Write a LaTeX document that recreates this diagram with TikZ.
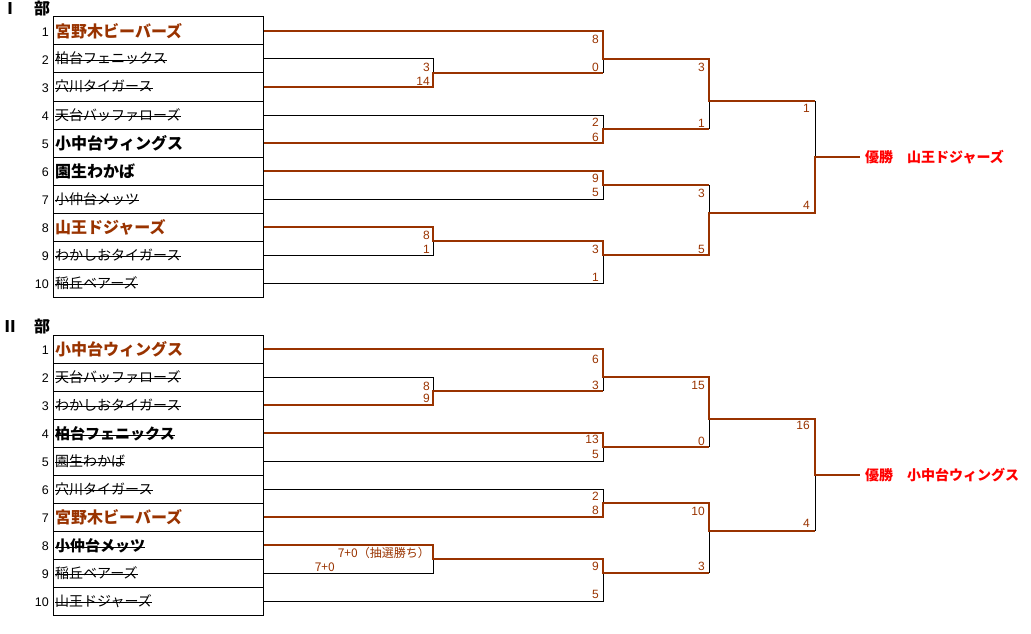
\documentclass[tikz,border=0pt]{standalone}
\usepackage{fontspec}
\setmainfont{Liberation Sans}
\newfontfamily\jp{Noto Sans CJK JP}
\definecolor{brn}{HTML}{993300}
\definecolor{wred}{HTML}{FF0000}
\newcommand\struck[2]{\draw[strikeline] ([yshift=#2]#1.base west) -- ([yshift=#2]#1.base east);}
\begin{document}
\begin{tikzpicture}[x=1pt,y=-1pt,
  rowbox/.style={draw=black, line width=1pt, minimum width=210pt, minimum height=28pt, inner sep=0pt},
  num/.style={anchor=base east, inner sep=0pt, font=\fontsize{12.5}{14}\selectfont},
  tn/.style={anchor=base west, inner sep=0pt, font=\jp\fontsize{14}{16}\selectfont},
  tnbig/.style={anchor=base west, inner sep=0pt, font=\jp\bfseries\fontsize{16}{18}\selectfont},
  tnmid/.style={anchor=base west, inner sep=0pt, font=\jp\bfseries\fontsize{15}{17}\selectfont},
  sc/.style={anchor=base east, inner sep=0pt, text=brn, font=\fontsize{12}{14}\selectfont},
  scj/.style={anchor=base east, inner sep=0pt, text=brn, font=\jp\fontsize{12}{14}\selectfont},
  lose/.style={draw=black, line width=1pt},
  win/.style={draw=brn, line width=2.6pt},
  strikeline/.style={draw=black, line width=0.9pt},
  ttl/.style={anchor=base west, inner sep=0pt, font=\jp\bfseries\fontsize{16}{18}\selectfont},
  champ/.style={anchor=base west, inner sep=0pt, text=wred, font=\jp\bfseries\fontsize{14}{16}\selectfont}]
\useasboundingbox (0,0) rectangle (1031,634);

% ---------------- titles
\node[ttl] (ttlI) at (2,14.5) {Ⅰ　部};
\node[ttl] (ttlII) at (2,332.5) {Ⅱ　部};

% ---------------- tables
\foreach \i in {1,...,10} {
  \node[rowbox] (rI\i) at (158,{3+28*\i}) {};
  \node[num] (nI\i) at (49,{3+28*\i+5.5}) {\i};
  \node[rowbox] (rJ\i) at (158,{321+28*\i}) {};
  \node[num] (nJ\i) at (49,{321+28*\i+5.5}) {\i};
}

% ---------------- team names, division I
\node[tnbig, text=brn] (t1) at (55,37.5) {宮野木ビーバーズ};
\node[tn] (t2) at (55,64) {柏台フェニックス}; \struck{t2}{3.3pt}
\node[tn] (t3) at (55,92) {穴川タイガース}; \struck{t3}{3.3pt}
\node[tn] (t4) at (55,120) {天台バッファローズ}; \struck{t4}{3.3pt}
\node[tnbig] (t5) at (55,149.5) {小中台ウィングス};
\node[tnbig] (t6) at (55,177.5) {園生わかば};
\node[tn] (t7) at (55,204) {小仲台メッツ}; \struck{t7}{3.3pt}
\node[tnbig, text=brn] (t8) at (55,233.5) {山王ドジャーズ};
\node[tn] (t9) at (55,260) {わかしおタイガース}; \struck{t9}{3.3pt}
\node[tn] (t10) at (55,288) {稲丘ベアーズ}; \struck{t10}{3.3pt}

% ---------------- team names, division II
\node[tnbig, text=brn] (u1) at (55,355.5) {小中台ウィングス};
\node[tn] (u2) at (55,382) {天台バッファローズ}; \struck{u2}{3.3pt}
\node[tn] (u3) at (55,410) {わかしおタイガース}; \struck{u3}{3.3pt}
\node[tnmid] (u4) at (55,439) {柏台フェニックス}; \struck{u4}{4pt}
\node[tn] (u5) at (55,466) {園生わかば}; \struck{u5}{3.3pt}
\node[tn] (u6) at (55,494) {穴川タイガース}; \struck{u6}{3.3pt}
\node[tnbig, text=brn] (u7) at (55,523.5) {宮野木ビーバーズ};
\node[tnmid] (u8) at (55,551) {小仲台メッツ}; \struck{u8}{4pt}
\node[tn] (u9) at (55,578) {稲丘ベアーズ}; \struck{u9}{3.3pt}
\node[tn] (u10) at (55,606) {山王ドジャーズ}; \struck{u10}{3.3pt}

% ---------------- bracket points, division I
\coordinate (A2) at (433,59);  \coordinate (Am) at (433,73);  \coordinate (A3) at (433,87);
\coordinate (B8) at (433,227); \coordinate (Bm) at (433,241); \coordinate (B9) at (433,255);
\coordinate (P1t) at (603,31);  \coordinate (P1m) at (603,59);  \coordinate (P1b) at (603,73);
\coordinate (P2t) at (603,115); \coordinate (P2m) at (603,129); \coordinate (P2b) at (603,143);
\coordinate (P3t) at (603,171); \coordinate (P3m) at (603,185); \coordinate (P3b) at (603,199);
\coordinate (P4t) at (603,241); \coordinate (P4m) at (603,255); \coordinate (P4b) at (603,283);
\coordinate (R1t) at (709,59);  \coordinate (R1m) at (709,101); \coordinate (R1b) at (709,129);
\coordinate (R2t) at (709,185); \coordinate (R2m) at (709,213); \coordinate (R2b) at (709,255);
\coordinate (Ft) at (815,101);  \coordinate (Fm) at (815,157);  \coordinate (Fb) at (815,213);
\coordinate (CI) at (860,157);

\draw[lose] (rI2.east) -- (A2) -- (Am);
\draw[lose] (rI4.east) -- (P2t) -- (P2m);
\draw[lose] (rI7.east) -- (P3b) -- (P3m);
\draw[lose] (rI9.east) -- (B9) -- (Bm);
\draw[lose] (rI10.east) -- (P4b) -- (P4m);
\draw[lose] (P1m) -- (P1b);
\draw[lose] (R1m) -- (R1b);
\draw[lose] (R2t) -- (R2m);
\draw[lose] (Ft) -- (Fm);

\draw[win] (rI1.east) -- (P1t) -- (P1m) -- (R1t) -- (R1m) -- (Ft);
\draw[win] (rI3.east) -- (A3) -- (Am) -- (P1b);
\draw[win] (rI5.east) -- (P2b) -- (P2m) -- (R1b);
\draw[win] (rI6.east) -- (P3t) -- (P3m) -- (R2t);
\draw[win] (rI8.east) -- (B8) -- (Bm) -- (P4t) -- (P4m) -- (R2b) -- (R2m) -- (Fb) -- (Fm) -- (CI);

\node[champ] (wI) at (865,162.5) {優勝　山王ドジャーズ};

% scores, division I
\node[sc] (sa1) at (430,71) {3};    \node[sc] (sa2) at (430,85.3) {14};
\node[sc] (sb1) at (430,239.3) {8}; \node[sc] (sb2) at (430,253.6) {1};
\node[sc] (sp1) at (599,44) {8};    \node[sc] (sp2) at (599,71) {0};
\node[sc] (sp3) at (599,126.3) {2}; \node[sc] (sp4) at (599,141) {6};
\node[sc] (sp5) at (599,182.3) {9}; \node[sc] (sp6) at (599,196.3) {5};
\node[sc] (sp7) at (599,253.3) {3}; \node[sc] (sp8) at (599,281) {1};
\node[sc] (sr1) at (705,72) {3};    \node[sc] (sr2) at (705,127.6) {1};
\node[sc] (sr3) at (705,197.6) {3}; \node[sc] (sr4) at (705,253.6) {5};
\node[sc] (sf1) at (810,112.6) {1}; \node[sc] (sf2) at (810,209.3) {4};

% ---------------- bracket points, division II
\coordinate (C2) at (433,377); \coordinate (Cm) at (433,391); \coordinate (C3) at (433,405);
\coordinate (Dt) at (433,545); \coordinate (Dm) at (433,559); \coordinate (D9) at (433,573);
\coordinate (Q1t) at (603,349); \coordinate (Q1m) at (603,377); \coordinate (Q1b) at (603,391);
\coordinate (Q2t) at (603,433); \coordinate (Q2m) at (603,447); \coordinate (Q2b) at (603,461);
\coordinate (Q3t) at (603,489); \coordinate (Q3m) at (603,503); \coordinate (Q3b) at (603,517);
\coordinate (Q4t) at (603,559); \coordinate (Q4m) at (603,573); \coordinate (Q4b) at (603,601);
\coordinate (S1t) at (709,377); \coordinate (S1m) at (709,419); \coordinate (S1b) at (709,447);
\coordinate (S2t) at (709,503); \coordinate (S2m) at (709,531); \coordinate (S2b) at (709,573);
\coordinate (Gt) at (815,419);  \coordinate (Gm) at (815,475);  \coordinate (Gb) at (815,531);
\coordinate (CII) at (860,475);

\draw[lose] (rJ2.east) -- (C2) -- (Cm);
\draw[lose] (rJ5.east) -- (Q2b) -- (Q2m);
\draw[lose] (rJ6.east) -- (Q3t) -- (Q3m);
\draw[lose] (rJ9.east) -- (D9) -- (Dm);
\draw[lose] (rJ10.east) -- (Q4b) -- (Q4m);
\draw[lose] (Q1m) -- (Q1b);
\draw[lose] (S1m) -- (S1b);
\draw[lose] (S2m) -- (S2b);
\draw[lose] (Gm) -- (Gb);

\draw[win] (rJ1.east) -- (Q1t) -- (Q1m) -- (S1t) -- (S1m) -- (Gt) -- (Gm) -- (CII);
\draw[win] (rJ3.east) -- (C3) -- (Cm) -- (Q1b);
\draw[win] (rJ4.east) -- (Q2t) -- (Q2m) -- (S1b);
\draw[win] (rJ7.east) -- (Q3b) -- (Q3m) -- (S2t) -- (S2m) -- (Gb);
\draw[win] (rJ8.east) -- (Dt) -- (Dm) -- (Q4t) -- (Q4m) -- (S2b);

\node[champ] (wII) at (865,480.5) {優勝　小中台ウィングス};

% scores, division II
\node[sc] (tc1) at (430,390.3) {8};  \node[sc] (tc2) at (430,402.6) {9};
\node[scj] (td1) at (430,557.2) {7+0（抽選勝ち）};
\node[scj] (td2) at (335,571) {7+0};
\node[sc] (tq1) at (599,363.3) {6};  \node[sc] (tq2) at (599,389.3) {3};
\node[sc] (tq3) at (599,443.6) {13}; \node[sc] (tq4) at (599,458) {5};
\node[sc] (tq5) at (599,500) {2};    \node[sc] (tq6) at (599,514) {8};
\node[sc] (tq7) at (599,570.6) {9};  \node[sc] (tq8) at (599,598) {5};
\node[sc] (ts1) at (705,389.3) {15}; \node[sc] (ts2) at (705,445.3) {0};
\node[sc] (ts3) at (705,515.3) {10}; \node[sc] (ts4) at (705,570.6) {3};
\node[sc] (tg1) at (810,429.3) {16}; \node[sc] (tg2) at (810,527.6) {4};
\end{tikzpicture}
\end{document}
